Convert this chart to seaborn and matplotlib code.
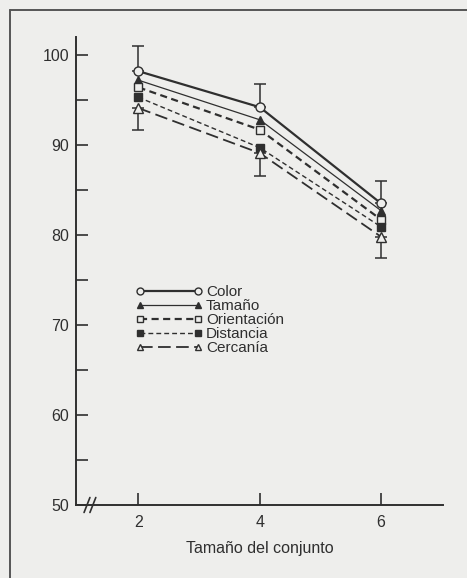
import matplotlib
matplotlib.use("Agg")
import matplotlib.pyplot as plt
import matplotlib.lines as mlines
import numpy as np
import pandas as pd
import seaborn as sns

# Set sizes on the x axis
set_sizes = [2, 4, 6]

# Mean percentage correct for each feature dimension
color_vals = [98.2, 94.2, 83.5]
tamano_vals = [97.2, 92.8, 82.7]
orientacion_vals = [96.4, 91.7, 81.7]
distancia_vals = [95.3, 89.7, 80.9]
cercania_vals = [94.1, 89.1, 79.8]

# Error bars: upper one on Color, lower one on Cercanía
color_err_up = [2.8, 2.6, 2.5]
cercania_err_down = [2.4, 2.5, 2.4]

series_names = ["Color", "Tamaño", "Orientación", "Distancia", "Cercanía"]
y_ticks = [50, 60, 70, 80, 90, 100]
x_ticks = [2, 4, 6]
x_label = "Tamaño del conjunto"

sns.set_theme(style="ticks")
plt.rcParams["font.family"] = ["Liberation Sans", "DejaVu Sans"]

ink = "#2f2f2f"
paper = "#eeeeec"

df = pd.DataFrame({
    "x": set_sizes * 5,
    "y": color_vals + tamano_vals + orientacion_vals + distancia_vals + cercania_vals,
    "serie": sum([[n] * 3 for n in series_names], []),
})

styles = {
    "Color": dict(marker="o", mfc=paper, lw=1.6, ls="-", ms=6.5),
    "Tamaño": dict(marker="^", mfc=ink, lw=0.9, ls="-", ms=6),
    "Orientación": dict(marker="s", mfc=paper, lw=1.6, ls=(0, (3.2, 2.0)), ms=6),
    "Distancia": dict(marker="s", mfc=ink, lw=1.0, ls=(0, (3.5, 2.2)), ms=6),
    "Cercanía": dict(marker="^", mfc=paper, lw=1.3, ls=(0, (7, 3)), ms=6.5),
}

fig = plt.figure(figsize=(4.67, 5.78), dpi=100, facecolor=paper)
ax = fig.add_axes([0.1627, 0.1263, 0.9486 - 0.1627, 0.936 - 0.1263])
ax.set_facecolor(paper)

handles = []
for name in series_names:
    st = styles[name]
    sub = df[df["serie"] == name]
    sns.lineplot(data=sub, x="x", y="y", ax=ax, color=ink, linewidth=st["lw"],
                 linestyle=st["ls"], marker=st["marker"], markersize=st["ms"],
                 markerfacecolor=st["mfc"], markeredgecolor=ink, markeredgewidth=1.0,
                 legend=False, zorder=3)
    handles.append(mlines.Line2D([], [], color=ink, lw=st["lw"], ls=st["ls"],
                                 marker=st["marker"], ms=st["ms"] - 1.5,
                                 mfc=st["mfc"], mec=ink, mew=1.0, label=name))

ax.errorbar(set_sizes, color_vals,
            yerr=[np.zeros(3), color_err_up], fmt="none",
            ecolor=ink, elinewidth=1.1, capsize=4.2, capthick=1.1, zorder=2)
ax.errorbar(set_sizes, cercania_vals,
            yerr=[cercania_err_down, np.zeros(3)], fmt="none",
            ecolor=ink, elinewidth=1.1, capsize=4.2, capthick=1.1, zorder=2)

ax.set_xlim(0.97, 7.02)
ax.set_ylim(50, 102)
ax.set_xticks(x_ticks)
ax.set_yticks(y_ticks)
ax.set_yticks([55, 65, 75, 85, 95], minor=True)
ax.tick_params(axis="both", which="both", direction="in", length=8.5, width=1.2,
               color=ink, labelcolor=ink, labelsize=11.5)
ax.tick_params(axis="x", pad=7)
ax.tick_params(axis="y", pad=5)
ax.set_xlabel(x_label, fontsize=11.5, color=ink, labelpad=8)
ax.set_ylabel("")
sns.despine(ax=ax)
for s in ("left", "bottom"):
    ax.spines[s].set_linewidth(1.4)
    ax.spines[s].set_color(ink)

# axis break on the x axis
for dx in (0.0, 0.016):
    ax.plot([0.022 + dx, 0.038 + dx], [-0.016, 0.016], transform=ax.transAxes,
            color=ink, lw=1.2, clip_on=False, zorder=5)

leg = ax.legend(handles=handles, loc="upper left", bbox_to_anchor=(0.161, 0.47),
                frameon=False, fontsize=11, handlelength=4.4, numpoints=2,
                labelspacing=0.0, handletextpad=0.25, borderpad=0,
                borderaxespad=0)
for t in leg.get_texts():
    t.set_color(ink)

# box around the figure region
fig.add_artist(mlines.Line2D([10 / 467, 1.0], [1 - 10 / 578, 1 - 10 / 578],
                             transform=fig.transFigure, color="#555555", lw=1.4))
fig.add_artist(mlines.Line2D([10 / 467, 10 / 467], [0.0, 1 - 10 / 578],
                             transform=fig.transFigure, color="#555555", lw=1.4))

fig.savefig("out.png", dpi=100, facecolor=paper)
